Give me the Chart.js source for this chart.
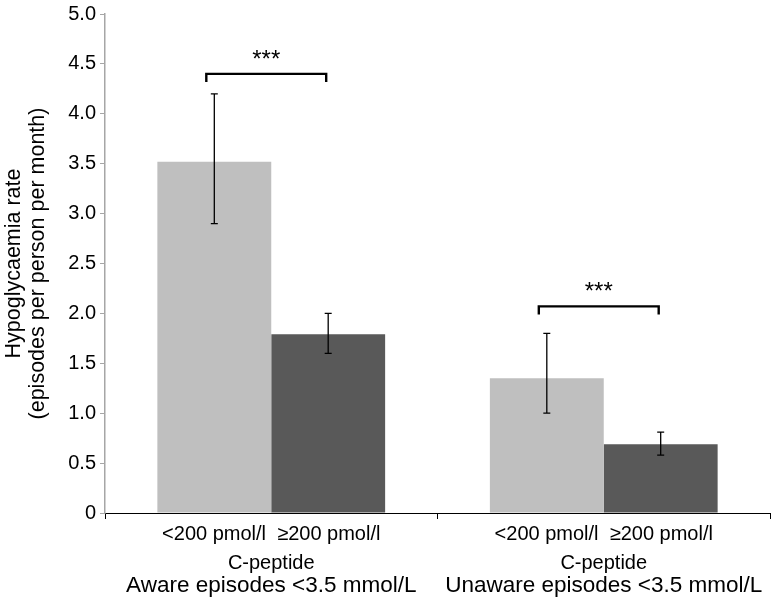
<!DOCTYPE html>
<html>
<head>
<meta charset="utf-8">
<script src="https://cdn.jsdelivr.net/npm/chart.js@4/dist/chart.umd.min.js"></script>
<style>
  html, body { margin: 0; padding: 0; background: #fff; }
  #wrap { width: 776px; height: 604px; position: relative; }
</style>
</head>
<body>
<div id="wrap"><canvas id="rate_chart"></canvas></div>
<script>
// data
const groups = ['Aware episodes <3.5 mmol/L', 'Unaware episodes <3.5 mmol/L'];
const seriesNames = ['<200 pmol/l', '≥200 pmol/l'];
const lowCpeptide = [3.52, 1.35];
const highCpeptide = [1.79, 0.69];
const lowErrLow = [2.90, 1.00];
const lowErrHigh = [4.20, 1.80];
const highErrLow = [1.60, 0.58];
const highErrHigh = [2.00, 0.81];
const bracketLevel = [4.40, 2.07];
const bracketText = ['***', '***'];
const subTitle = 'C-peptide';
const yTitle = ['Hypoglycaemia rate', '(episodes per person per month)'];

const FONT = '"Liberation Sans", Arial, sans-serif';

// error bars + significance brackets
const errorBars = {
    id: 'errorBars',
    afterDatasetsDraw(chart) {
        const ctx = chart.ctx;
        const y = chart.scales.y;
        const lows = [lowErrLow, highErrLow];
        const highs = [lowErrHigh, highErrHigh];
        ctx.save();
        ctx.strokeStyle = '#000';
        ctx.lineWidth = 1.3;
        for (let d = 0; d < 2; d++) {
            const meta = chart.getDatasetMeta(d);
            meta.data.forEach(function (bar, i) {
                const x = bar.x;
                const y1 = y.getPixelForValue(lows[d][i]);
                const y2 = y.getPixelForValue(highs[d][i]);
                ctx.beginPath();
                ctx.moveTo(x, y1); ctx.lineTo(x, y2);
                ctx.moveTo(x - 3.5, y1); ctx.lineTo(x + 3.5, y1);
                ctx.moveTo(x - 3.5, y2); ctx.lineTo(x + 3.5, y2);
                ctx.stroke();
            });
        }
        // brackets
        const m0 = chart.getDatasetMeta(0), m1 = chart.getDatasetMeta(1);
        ctx.lineWidth = 2.4;
        ctx.fillStyle = '#000';
        ctx.font = '24px ' + FONT;
        ctx.textAlign = 'center';
        ctx.textBaseline = 'middle';
        for (let i = 0; i < groups.length; i++) {
            const xa = m0.data[i].x - 8;
            const xb = m1.data[i].x - 2;
            const by = y.getPixelForValue(bracketLevel[i]);
            ctx.beginPath();
            ctx.moveTo(xa, by + 8);
            ctx.lineTo(xa, by);
            ctx.lineTo(xb, by);
            ctx.lineTo(xb, by + 8);
            ctx.stroke();
            ctx.fillText(bracketText[i], (xa + xb) / 2, by - 14);
        }
        ctx.restore();
    }
};

// category labels under the axis
const groupLabels = {
    id: 'groupLabels',
    afterDraw(chart) {
        const ctx = chart.ctx;
        const xs = chart.scales.x;
        const base = chart.chartArea.bottom;
        ctx.save();
        ctx.fillStyle = '#000';
        ctx.textAlign = 'center';
        ctx.textBaseline = 'middle';
        groups.forEach(function (g, i) {
            const cx = xs.getPixelForValue(i);
            ctx.font = '20px ' + FONT;
            ctx.fillText(seriesNames[0] + '  ' + seriesNames[1], cx, base + 21);
            ctx.fillText(subTitle, cx, base + 50);
            ctx.font = '22.5px ' + FONT;
            ctx.fillText(g, cx, base + 73);
        });
        ctx.restore();
    }
};

const ctx = document.getElementById('rate_chart');
const rateChart = new Chart(ctx, {
    type: 'bar',
    data: {
        labels: groups,
        datasets: [{
            label: seriesNames[0],
            data: lowCpeptide,
            backgroundColor: '#bfbfbf',
            categoryPercentage: 0.685,
            barPercentage: 1.0
        },
        {
            label: seriesNames[1],
            data: highCpeptide,
            backgroundColor: '#595959',
            categoryPercentage: 0.685,
            barPercentage: 1.0
        }]
    },
    options: {
        responsive: true,
        maintainAspectRatio: false,
        animation: false,
        layout: { padding: { top: 8, right: 6, left: 0, bottom: 0 } },
        plugins: {
            legend: { display: false },
            tooltip: { enabled: false }
        },
        scales: {
            x: {
                ticks: { display: false },
                grid: { drawOnChartArea: false, drawTicks: true, tickLength: 6, color: '#000' },
                border: { color: '#000', width: 1 },
                afterFit: function (scale) { scale.height = 91; }
            },
            y: {
                min: 0,
                max: 5,
                ticks: {
                    stepSize: 0.5,
                    color: '#000',
                    padding: 4,
                    font: { family: FONT, size: 20, lineHeight: 1 },
                    callback: function (v) { return v === 0 ? '0' : v.toFixed(1); }
                },
                grid: { drawOnChartArea: false, drawTicks: true, tickLength: 5, color: '#a6a6a6' },
                border: { color: '#a6a6a6', width: 1.5 },
                title: {
                    display: true,
                    text: yTitle,
                    color: '#000',
                    font: { family: FONT, size: 21.5, lineHeight: 1.12 },
                    padding: { top: 2, bottom: 0 }
                },
                afterFit: function (scale) { scale.width = 105; }
            }
        }
    },
    plugins: [errorBars, groupLabels]
});
</script>
</body>
</html>
